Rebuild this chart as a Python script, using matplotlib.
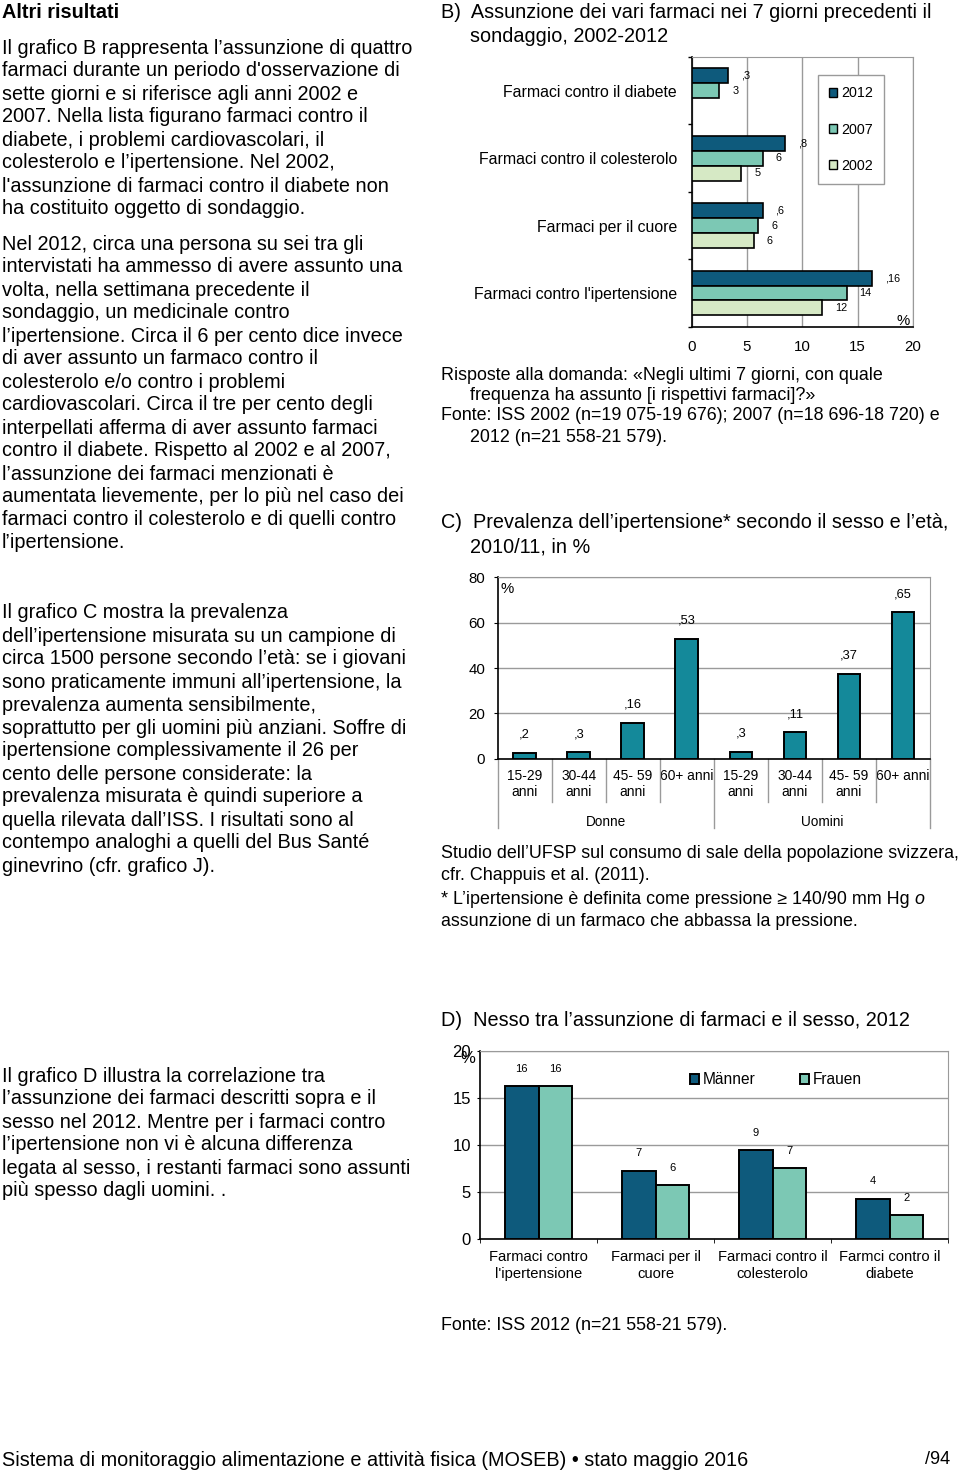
import numpy as np
import matplotlib
matplotlib.use("Agg")
import matplotlib.pyplot as plt
from matplotlib.patches import Patch
from matplotlib.transforms import blended_transform_factory

plt.rcParams["font.family"] = ["Liberation Sans", "DejaVu Sans"]

W, H = 960, 1471

# --- chart B: assunzione farmaci 2002-2012 ---
drugs_b = ["Farmaci contro il diabete", "Farmaci contro il colesterolo",
           "Farmaci per il cuore", "Farmaci contro l'ipertensione"]
years_b = ["2012", "2007", "2002"]
vals_2012 = [3.3, 8.4, 6.4, 16.3]
vals_2007 = [2.5, 6.4, 6.0, 14.0]
vals_2002 = [np.nan, 4.5, 5.6, 11.8]
labels_2012 = [",3", ",8", ",6", ",16"]
labels_2007 = ["3", "6", "6", "14"]
labels_2002 = ["", "5", "6", "12"]

# --- chart C: prevalenza ipertensione ---
ages_c = ["15-29\nanni", "30-44\nanni", "45- 59\nanni", "60+ anni",
          "15-29\nanni", "30-44\nanni", "45- 59\nanni", "60+ anni"]
sexes_c = ["Donne", "Uomini"]
prev_c = [2.6, 2.9, 15.9, 52.9, 3.1, 11.6, 37.4, 64.6]
labels_c = [",2", ",3", ",16", ",53", ",3", ",11", ",37", ",65"]

# --- chart D: farmaci e sesso 2012 ---
drugs_d = ["Farmaci contro\nl'ipertensione", "Farmaci per il\ncuore",
           "Farmaci contro il\ncolesterolo", "Farmci contro il\ndiabete"]
men_d = [16.2, 7.25, 9.4, 4.25]
women_d = [16.2, 5.7, 7.5, 2.5]
labels_men = ["16", "7", "9", "4"]
labels_women = ["16", "6", "7", "2"]

DARK = "#0E5A7C"
MINT = "#7CC8B4"
PALE = "#D6E9C5"
TEAL = "#14899A"
GRID = "#9A9A9A"

fig = plt.figure(figsize=(W / 100, H / 100), dpi=100)


def fx(x):
    return x / W


def fy(y):
    return 1 - y / H


def put(x, y, s, size=14.3, **kw):
    # small downward nudge so the line centres sit where the reference has them
    return fig.text(fx(x), fy(y + 2), s, fontsize=size, va="center", **kw)


def axes_px(left, right, top, bottom):
    return fig.add_axes([fx(left), fy(bottom), (right - left) / W, (bottom - top) / H])


# ---------------- left column text ----------------
put(2, 11, "Altri risultati", weight="bold")
para1 = [
    "Il grafico B rappresenta l’assunzione di quattro",
    "farmaci durante un periodo d'osservazione di",
    "sette giorni e si riferisce agli anni 2002 e",
    "2007. Nella lista figurano farmaci contro il",
    "diabete, i problemi cardiovascolari, il",
    "colesterolo e l’ipertensione. Nel 2002,",
    "l'assunzione di farmaci contro il diabete non",
    "ha costituito oggetto di sondaggio.",
]
para2 = [
    "Nel 2012, circa una persona su sei tra gli",
    "intervistati ha ammesso di avere assunto una",
    "volta, nella settimana precedente il",
    "sondaggio, un medicinale contro",
    "l’ipertensione. Circa il 6 per cento dice invece",
    "di aver assunto un farmaco contro il",
    "colesterolo e/o contro i problemi",
    "cardiovascolari. Circa il tre per cento degli",
    "interpellati afferma di aver assunto farmaci",
    "contro il diabete. Rispetto al 2002 e al 2007,",
    "l’assunzione dei farmaci menzionati è",
    "aumentata lievemente, per lo più nel caso dei",
    "farmaci contro il colesterolo e di quelli contro",
    "l’ipertensione.",
]
para3 = [
    "Il grafico C mostra la prevalenza",
    "dell’ipertensione misurata su un campione di",
    "circa 1500 persone secondo l’età: se i giovani",
    "sono praticamente immuni all’ipertensione, la",
    "prevalenza aumenta sensibilmente,",
    "soprattutto per gli uomini più anziani. Soffre di",
    "ipertensione complessivamente il 26 per",
    "cento delle persone considerate: la",
    "prevalenza misurata è quindi superiore a",
    "quella rilevata dall’ISS. I risultati sono al",
    "contempo analoghi a quelli del Bus Santé",
    "ginevrino (cfr. grafico J).",
]
para4 = [
    "Il grafico D illustra la correlazione tra",
    "l’assunzione dei farmaci descritti sopra e il",
    "sesso nel 2012. Mentre per i farmaci contro",
    "l’ipertensione non vi è alcuna differenza",
    "legata al sesso, i restanti farmaci sono assunti",
    "più spesso dagli uomini. .",
]
for lines, y0 in [(para1, 46), (para2, 242), (para3, 611), (para4, 1074)]:
    for i, s in enumerate(lines):
        put(2, y0 + 23 * i, s)

# ---------------- right column text ----------------
put(441, 11, "B)  Assunzione dei vari farmaci nei 7 giorni precedenti il")
put(470, 34, "sondaggio, 2002-2012")
put(441, 373, "Risposte alla domanda: «Negli ultimi 7 giorni, con quale", 12.9)
put(470, 394, "frequenza ha assunto [i rispettivi farmaci]?»", 12.9)
put(441, 414, "Fonte: ISS 2002 (n=19 075-19 676); 2007 (n=18 696-18 720) e", 12.9)
put(470, 435, "2012 (n=21 558-21 579).", 12.9)

put(441, 521, "C)  Prevalenza dell’ipertensione* secondo il sesso e l’età,")
put(470, 545, "2010/11, in %")
put(441, 852, "Studio dell’UFSP sul consumo di sale della popolazione svizzera,", 12.9)
put(441, 873, "cfr. Chappuis et al. (2011).", 12.9)
t_note = put(441, 898, "* L’ipertensione è definita come pressione ≥ 140/90 mm Hg ", 12.9)
put(441, 919, "assunzione di un farmaco che abbassa la pressione.", 12.9)

put(441, 1018, "D)  Nesso tra l’assunzione di farmaci e il sesso, 2012")
put(441, 1323, "Fonte: ISS 2012 (n=21 558-21 579).", 12.9)

# ---------------- chart B ----------------
axB = axes_px(691.7, 913, 57, 326.7)
hb = 0.222
centers = np.arange(len(drugs_b)) + 0.5
series_b = [(vals_2012, labels_2012, DARK, -hb), (vals_2007, labels_2007, MINT, 0.0),
            (vals_2002, labels_2002, PALE, hb)]
for vals, labs, col, off in series_b:
    axB.barh(centers + off, vals, height=hb, color=col, edgecolor="black", linewidth=1.2, zorder=3)
    for yc, v, lab in zip(centers + off, vals, labs):
        if lab:
            axB.annotate(lab, (v, yc), xytext=(13, 0), textcoords="offset pixels",
                         ha="left", va="center", fontsize=7.8)
axB.set_xlim(0, 20)
axB.set_ylim(4, 0)
axB.set_xticks(np.arange(0, 21, 5))
axB.set_yticks(centers)
axB.set_yticklabels(drugs_b, fontsize=11.4)
axB.set_yticks(np.arange(0, 5), minor=True)
axB.tick_params(axis="y", which="major", length=0, pad=10.6)
axB.tick_params(axis="y", which="minor", length=3, width=1, color="black")
axB.tick_params(axis="x", length=0, pad=9.5, labelsize=10.8)
axB.xaxis.grid(True, color=GRID, linewidth=1, zorder=0)
axB.set_axisbelow(True)
for side in ["top", "right"]:
    axB.spines[side].set_color(GRID)
for side in ["left", "bottom"]:
    axB.spines[side].set_linewidth(1.2)
axB.text(19.07, 3.91, "%", ha="center", va="center", fontsize=10.8)
handles_b = [Patch(facecolor=c, edgecolor="black", linewidth=1) for c in (DARK, MINT, PALE)]
legB = axB.legend(handles_b, years_b, loc="upper left", bbox_to_anchor=(fx(818), fy(75)),
                  bbox_transform=fig.transFigure, fontsize=10.3, fancybox=False,
                  framealpha=1, edgecolor=GRID, borderpad=0.8, labelspacing=1.55,
                  handlelength=0.55, handleheight=0.6, handletextpad=0.25, borderaxespad=0)
legB.get_frame().set_linewidth(1)

# ---------------- chart C ----------------
axC = axes_px(497.7, 930, 577.3, 758.7)
xc = np.arange(len(prev_c))
axC.bar(xc, prev_c, width=0.42, color=TEAL, edgecolor="black", linewidth=1.4, zorder=3)
for x, v, lab in zip(xc, prev_c, labels_c):
    axC.annotate(lab, (x, v), xytext=(0, 18), textcoords="offset pixels",
                 ha="center", va="center", fontsize=9.3)
axC.set_xlim(-0.5, 7.5)
axC.set_ylim(0, 80)
axC.set_yticks(np.arange(0, 81, 20))
axC.set_xticks(xc)
axC.set_xticklabels(ages_c, fontsize=9.9, linespacing=1.2)
axC.tick_params(axis="x", length=0, pad=7.5)
axC.tick_params(axis="y", length=3, labelsize=10.8, pad=6)
axC.yaxis.grid(True, color=GRID, linewidth=1, zorder=0)
axC.set_axisbelow(True)
axC.spines["top"].set_color(GRID)
axC.spines["right"].set_color(GRID)
for side in ["left", "bottom"]:
    axC.spines[side].set_linewidth(1.2)
trC = blended_transform_factory(axC.transData, axC.transAxes)
for xb in [0.5, 1.5, 2.5, 4.5, 5.5, 6.5]:
    axC.plot([xb, xb], [0, -0.237], transform=trC, color=GRID, lw=1, clip_on=False)
for xb in [-0.5, 3.5, 7.5]:
    axC.plot([xb, xb], [0, -0.382], transform=trC, color=GRID, lw=1, clip_on=False)
for xg, s in zip([1.5, 5.5], sexes_c):
    axC.text(xg, -0.35, s, transform=trC, ha="center", va="center", fontsize=9.8)
axC.text(-0.33, 74.8, "%", ha="center", va="center", fontsize=10.8)

# ---------------- chart D ----------------
axD = axes_px(480, 948.3, 1050.7, 1239)
xd = np.arange(len(drugs_d))
wd = 0.288
axD.bar(xd - wd / 2, men_d, width=wd, color=DARK, edgecolor="black", linewidth=1.4,
        zorder=3, label="Männer")
axD.bar(xd + wd / 2, women_d, width=wd, color=MINT, edgecolor="black", linewidth=1.4,
        zorder=3, label="Frauen")
for xs, vals, labs in [(xd - wd / 2, men_d, labels_men), (xd + wd / 2, women_d, labels_women)]:
    for x, v, lab in zip(xs, vals, labs):
        axD.annotate(lab, (x, v), xytext=(0, 17.5), textcoords="offset pixels",
                     ha="center", va="center", fontsize=8)
axD.set_xlim(-0.5, 3.5)
axD.set_ylim(0, 20)
axD.set_yticks(np.arange(0, 21, 5))
axD.set_xticks(xd)
axD.set_xticklabels(drugs_d, fontsize=10.6, linespacing=1.3)
axD.set_xticks(np.arange(-0.5, 4, 1), minor=True)
axD.tick_params(axis="x", which="major", length=0, pad=8)
axD.tick_params(axis="x", which="minor", length=3)
axD.tick_params(axis="y", length=2.5, labelsize=12, pad=4)
axD.yaxis.grid(True, color=GRID, linewidth=1, zorder=0)
axD.set_axisbelow(True)
axD.spines["top"].set_color(GRID)
axD.spines["right"].set_color(GRID)
for side in ["left", "bottom"]:
    axD.spines[side].set_linewidth(1.2)
axD.text(-0.6, 19.2, "%", ha="center", va="center", fontsize=12)
legD = axD.legend(loc="center left", bbox_to_anchor=(fx(690), fy(1080)),
                  bbox_transform=fig.transFigure, ncol=2, frameon=False, fontsize=11.2,
                  handlelength=0.55, handleheight=0.6, handletextpad=0.25,
                  columnspacing=2.9, borderpad=0, borderaxespad=0)

# ---------------- footer and italic "o" ----------------
renderer = fig.canvas.get_renderer()
bb = t_note.get_window_extent(renderer)
fig.text(bb.x1 / W, fy(900), "o", fontsize=12.9, style="italic", va="center")

foot = fig.text(fx(2), fy(1460), "Sistema di monitoraggio alimentazione e attività fisica "
                "(MOSEB) • stato maggio 2016", fontsize=14,
                family=["Liberation Sans Narrow", "Liberation Sans", "DejaVu Sans"],
                va="center")
fw = foot.get_window_extent(renderer).width
foot.set_fontsize(14 * 747 / fw)
fig.text(fx(950), fy(1460), "/94", fontsize=13, ha="right", va="center",
         family=["Liberation Sans Narrow", "Liberation Sans", "DejaVu Sans"])

fig.savefig("out.png", dpi=100)
